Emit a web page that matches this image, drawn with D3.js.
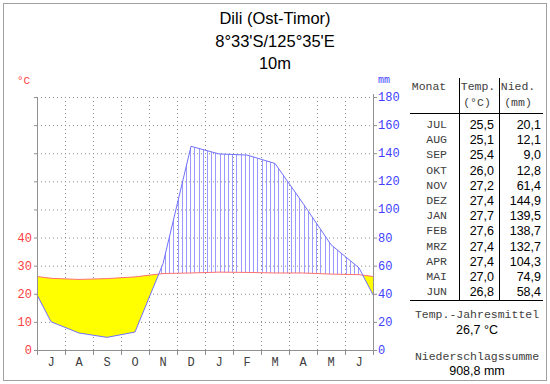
<!DOCTYPE html>
<html lang="de">
<head>
<meta charset="UTF-8">
<title>Klimadiagramm Dili</title>
<script src="https://d3js.org/d3.v7.min.js"></script>
<style>
  body { margin: 0; background: #fff; }
  .mono { font-family: "Courier New", "Liberation Mono", monospace; }
  .sans { font-family: "Liberation Sans", Arial, sans-serif; }
</style>
</head>
<body>
<script>
// data, July first (southern hemisphere)
var months = ["J","A","S","O","N","D","J","F","M","A","M","J"];
var monthNames = ["JUL","AUG","SEP","OKT","NOV","DEZ","JAN","FEB","MRZ","APR","MAI","JUN"];
var temp = [25.5, 25.1, 25.4, 26.0, 27.2, 27.4, 27.7, 27.6, 27.4, 27.4, 27.0, 26.8];
var precip = [20.1, 12.1, 9.0, 12.8, 61.4, 144.9, 139.5, 138.7, 132.7, 104.3, 74.9, 58.4];
var tempTicks = [0, 10, 20, 30, 40];
var precipTicks = [0, 20, 40, 60, 80, 100, 120, 140, 160, 180];
var title = ["Dili (Ost-Timor)", "8°33'S/125°35'E", "10m"];

var W = 550, H = 384;
var x0 = 37, x1 = 373, yBot = 350, yTop = 97;

var fmt = function(v) { return d3.format(".1f")(v).replace(".", ","); };

var x = d3.scaleLinear().domain([0, 12]).range([x0, x1]);
var yT = d3.scaleLinear().domain([0, 90]).range([yBot, yTop]);
var yP = d3.scaleLinear().domain([0, 180]).range([yBot, yTop]);

// points: month centres plus the two edges (mean of Jun/Jul)
function series(arr) {
  var edge = (arr[0] + arr[arr.length - 1]) / 2;
  var pts = [{i: 0, v: edge}];
  arr.forEach(function(v, i) { pts.push({i: i + 0.5, v: v}); });
  pts.push({i: 12, v: edge});
  return pts;
}
var tPts = series(temp), pPts = series(precip);

var svg = d3.select("body").append("svg")
  .attr("width", W).attr("height", H);

svg.append("rect")
  .attr("x", 3.5).attr("y", 3.5).attr("width", 543).attr("height", 377)
  .attr("fill", "#fff").attr("stroke", "#a0a0a0");

var defs = svg.append("defs");

// clip paths
defs.append("clipPath").attr("id", "belowTemp").append("path")
  .attr("d", d3.area().x(function(d){ return x(d.i); }).y0(yBot + 5).y1(function(d){ return yT(d.v); })(tPts));
defs.append("clipPath").attr("id", "aboveTemp").append("path")
  .attr("d", d3.area().x(function(d){ return x(d.i); }).y0(function(d){ return yT(d.v); }).y1(yTop - 10)(tPts));
defs.append("clipPath").attr("id", "belowPrecip").append("path")
  .attr("d", d3.area().x(function(d){ return x(d.i); }).y0(yBot + 5).y1(function(d){ return yP(d.v); })(pPts));

// grid
var grid = svg.append("g").attr("stroke", "#909090").attr("stroke-dasharray", "1,3");
grid.selectAll("line.h").data(d3.range(0, 100, 10)).enter().append("line")
  .attr("x1", x0).attr("x2", x1)
  .attr("y1", function(d){ return yT(d) + 0.5; }).attr("y2", function(d){ return yT(d) + 0.5; });
grid.selectAll("line.v").data(d3.range(1, 12)).enter().append("line")
  .attr("x1", function(d){ return x(d) + 0.5; }).attr("x2", function(d){ return x(d) + 0.5; })
  .attr("y1", yTop).attr("y2", yBot);

// arid area (yellow)
svg.append("path")
  .attr("clip-path", "url(#belowTemp)")
  .attr("fill", "#ffff00")
  .attr("d", d3.area().x(function(d){ return x(d.i); }).y0(function(d){ return yP(d.v); }).y1(yTop - 10)(pPts));

// humid area (vertical hatch)
var hatch = svg.append("g").attr("clip-path", "url(#belowPrecip)")
  .append("g").attr("clip-path", "url(#aboveTemp)");
hatch.selectAll("line").data(d3.range(x0 + 2, x1, 4.2)).enter().append("line")
  .attr("x1", function(d){ return Math.round(d) + 0.5; }).attr("x2", function(d){ return Math.round(d) + 0.5; })
  .attr("y1", yTop - 10).attr("y2", yBot)
  .attr("stroke", "#9a9aff").attr("stroke-width", 1);

// lines
svg.append("path")
  .attr("fill", "none").attr("stroke", "#ff7070").attr("stroke-width", 1)
  .attr("d", d3.line().x(function(d){ return x(d.i); }).y(function(d){ return yT(d.v); })(tPts));
svg.append("path")
  .attr("fill", "none").attr("stroke", "#7070ff").attr("stroke-width", 1)
  .attr("d", d3.line().x(function(d){ return x(d.i); }).y(function(d){ return yP(d.v); })(pPts));

// axes
var ax = svg.append("g").attr("stroke", "#909090").attr("stroke-width", 1);
ax.append("line").attr("x1", x0 + 0.5).attr("x2", x0 + 0.5).attr("y1", yTop).attr("y2", yBot + 5);
ax.append("line").attr("x1", x1 + 0.5).attr("x2", x1 + 0.5).attr("y1", yTop - 3).attr("y2", yBot + 5);
ax.append("line").attr("x1", x0 - 3).attr("x2", x1 + 3).attr("y1", yBot + 0.5).attr("y2", yBot + 0.5);
ax.selectAll("line.tl").data(d3.range(0, 100, 10)).enter().append("line")
  .attr("x1", x0 - 3).attr("x2", x0).attr("y1", function(d){ return yT(d) + 0.5; }).attr("y2", function(d){ return yT(d) + 0.5; });
ax.selectAll("line.tr").data(precipTicks).enter().append("line")
  .attr("x1", x1).attr("x2", x1 + 4).attr("y1", function(d){ return yP(d) + 0.5; }).attr("y2", function(d){ return yP(d) + 0.5; });
ax.selectAll("line.tb").data(d3.range(1, 12)).enter().append("line")
  .attr("x1", function(d){ return x(d) + 0.5; }).attr("x2", function(d){ return x(d) + 0.5; })
  .attr("y1", yBot).attr("y2", yBot + 5);

svg.selectAll("text.tt").data(tempTicks).enter().append("text")
  .attr("class", "mono").attr("x", 32).attr("y", function(d){ return yT(d) + 4; })
  .attr("text-anchor", "end").attr("font-size", 12).attr("fill", "#ff4040")
  .text(function(d){ return d; });
svg.selectAll("text.pt").data(precipTicks).enter().append("text")
  .attr("class", "mono").attr("x", 378).attr("y", function(d){ return yP(d) + 4; })
  .attr("font-size", 12).attr("fill", "#4040ff")
  .text(function(d){ return d; });
svg.selectAll("text.m").data(months).enter().append("text")
  .attr("class", "mono").attr("x", function(d, i){ return x(i + 0.5); }).attr("y", 366)
  .attr("text-anchor", "middle").attr("font-size", 12).attr("fill", "#404040")
  .text(function(d){ return d; });

svg.append("text").attr("class", "mono").attr("x", 17).attr("y", 84)
  .attr("font-size", 11).attr("fill", "#ff4040").text("°C");
svg.append("text").attr("class", "mono").attr("x", 378).attr("y", 83)
  .attr("font-size", 10).attr("fill", "#4040ff").text("mm");

// title
svg.selectAll("text.title").data(title).enter().append("text")
  .attr("class", "sans").attr("x", 275).attr("y", function(d, i){ return 24 + i * 22.5; })
  .attr("text-anchor", "middle").attr("font-size", 16.5).attr("fill", "#000")
  .text(function(d){ return d; });

// table
var tb = svg.append("g");
var c1 = 459.5, c2 = 499.5, rowY0 = 124, rowH = 15.2;
tb.append("line").attr("x1", c1).attr("x2", c1).attr("y1", 78).attr("y2", 301).attr("stroke", "#000");
tb.append("line").attr("x1", c2).attr("x2", c2).attr("y1", 78).attr("y2", 301).attr("stroke", "#000");
tb.append("line").attr("x1", 410).attr("x2", 543).attr("y1", 113.5).attr("y2", 113.5).attr("stroke", "#000");
tb.append("line").attr("x1", 410).attr("x2", 543).attr("y1", 300.5).attr("y2", 300.5).attr("stroke", "#000");

var hdr = [["Monat", 429, 90], ["Temp.", 478, 90], ["(°C)", 477, 106], ["Nied.", 518, 90], ["(mm)", 518, 106]];
tb.selectAll("text.h").data(hdr).enter().append("text")
  .attr("class", "mono").attr("x", function(d){ return d[1]; }).attr("y", function(d){ return d[2]; })
  .attr("text-anchor", "middle").attr("font-size", 11.5).attr("fill", "#404040")
  .text(function(d){ return d[0]; });

tb.selectAll("text.mn").data(monthNames).enter().append("text")
  .attr("class", "mono").attr("x", 447).attr("y", function(d, i){ return rowY0 + 4 + i * rowH; })
  .attr("text-anchor", "end").attr("font-size", 11.5).attr("fill", "#404040")
  .text(function(d){ return d; });
tb.selectAll("text.tv").data(temp).enter().append("text")
  .attr("class", "sans").attr("x", 494).attr("y", function(d, i){ return rowY0 + 5 + i * rowH; })
  .attr("text-anchor", "end").attr("font-size", 12.5).attr("fill", "#000")
  .text(fmt);
tb.selectAll("text.pv").data(precip).enter().append("text")
  .attr("class", "sans").attr("x", 541).attr("y", function(d, i){ return rowY0 + 5 + i * rowH; })
  .attr("text-anchor", "end").attr("font-size", 12.5).attr("fill", "#000")
  .text(fmt);

var foot = [
  ["Temp.-Jahresmittel", "mono", 318, "#404040"],
  [fmt(d3.mean(temp)) + " °C", "sans", 334, "#000"],
  ["Niederschlagssumme", "mono", 360, "#404040"],
  [fmt(d3.sum(precip)) + " mm", "sans", 375, "#000"]
];
tb.selectAll("text.f").data(foot).enter().append("text")
  .attr("class", function(d){ return d[1]; }).attr("x", 477).attr("y", function(d){ return d[2]; })
  .attr("text-anchor", "middle").attr("font-size", function(d){ return d[1] == "mono" ? 11.5 : 12.5; })
  .attr("fill", function(d){ return d[3]; })
  .text(function(d){ return d[0]; });
</script>
</body>
</html>
